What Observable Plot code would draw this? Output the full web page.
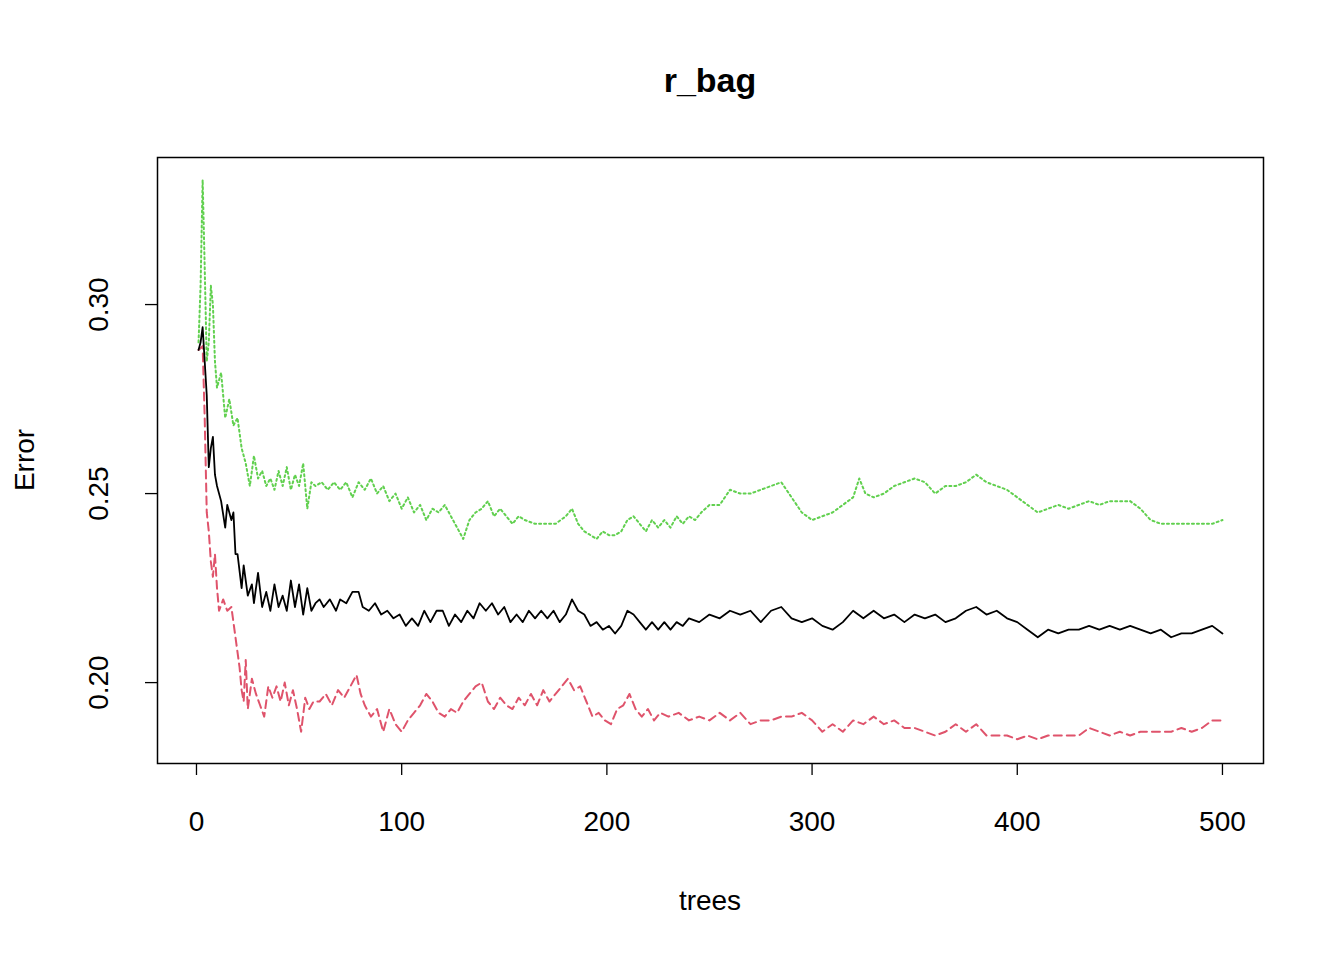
<!DOCTYPE html>
<html><head><meta charset="utf-8">
<script src="https://cdn.jsdelivr.net/npm/d3@7"></script>
<script src="https://cdn.jsdelivr.net/npm/@observablehq/plot@0.6"></script>
<style>body{margin:0;background:#fff}</style>
</head><body><div id="c"></div>
<script>
const oobT=[1,2,3,4,5,6,7,8,9,10,12,14,15,17,18,19,20,22,23,25,27,28,30,32,34,36,38,40,42,44,46,48,50,52,54,56,58,60,62,65,68,70,73,76,79,81,84,87,90,93,96,99,102,105,108,111,114,117,120,123,126,129,132,135,138,141,144,147,150,153,156,159,162,165,168,171,174,177,180,183,186,189,192,195,198,201,204,207,210,213,216,219,222,225,228,231,234,237,240,245,250,255,260,265,270,275,280,285,290,295,300,305,310,315,320,325,330,335,340,345,350,355,360,365,370,375,380,385,390,395,400,405,410,415,420,425,430,435,440,445,450,455,460,465,470,475,480,485,490,495,500];
const oobV=[0.288,0.290,0.294,0.285,0.276,0.257,0.262,0.265,0.255,0.252,0.248,0.241,0.247,0.243,0.245,0.234,0.234,0.225,0.231,0.223,0.226,0.221,0.229,0.220,0.224,0.219,0.226,0.220,0.223,0.219,0.227,0.220,0.226,0.218,0.225,0.219,0.221,0.222,0.220,0.222,0.219,0.222,0.221,0.224,0.224,0.220,0.219,0.221,0.218,0.219,0.217,0.218,0.215,0.217,0.215,0.219,0.216,0.219,0.219,0.215,0.218,0.216,0.219,0.217,0.221,0.219,0.221,0.218,0.220,0.216,0.218,0.216,0.219,0.217,0.219,0.217,0.219,0.216,0.218,0.222,0.219,0.218,0.215,0.216,0.214,0.215,0.213,0.215,0.219,0.218,0.216,0.214,0.216,0.214,0.216,0.214,0.216,0.215,0.217,0.216,0.218,0.217,0.219,0.218,0.219,0.216,0.219,0.220,0.217,0.216,0.217,0.215,0.214,0.216,0.219,0.217,0.219,0.217,0.218,0.216,0.218,0.217,0.218,0.216,0.217,0.219,0.220,0.218,0.219,0.217,0.216,0.214,0.212,0.214,0.213,0.214,0.214,0.215,0.214,0.215,0.214,0.215,0.214,0.213,0.214,0.212,0.213,0.213,0.214,0.215,0.213];
const c1T=[1,3,4,5,6,7,8,9,10,11,13,15,17,19,21,22,23,24,25,27,29,31,33,35,37,39,41,43,45,47,49,51,53,55,57,60,63,66,69,72,75,78,80,82,85,88,91,94,97,100,103,106,109,112,115,118,121,124,127,130,133,136,139,142,145,148,151,154,157,160,163,166,169,172,175,178,181,184,187,190,193,196,199,202,205,208,211,214,217,220,223,226,230,235,240,245,250,255,260,265,270,275,280,285,290,295,300,305,310,315,320,325,330,335,340,345,350,355,360,365,370,375,380,385,390,395,400,405,410,415,420,425,430,435,440,445,450,455,460,465,470,475,480,485,490,495,500];
const c1V=[0.288,0.289,0.270,0.245,0.240,0.232,0.228,0.234,0.225,0.219,0.222,0.219,0.220,0.212,0.204,0.198,0.195,0.206,0.193,0.201,0.197,0.194,0.191,0.199,0.196,0.199,0.195,0.200,0.194,0.198,0.193,0.187,0.196,0.193,0.195,0.195,0.197,0.194,0.198,0.196,0.199,0.202,0.197,0.194,0.191,0.193,0.187,0.193,0.189,0.187,0.190,0.192,0.194,0.197,0.195,0.192,0.191,0.193,0.192,0.195,0.197,0.199,0.200,0.195,0.193,0.196,0.194,0.193,0.196,0.194,0.197,0.194,0.198,0.195,0.197,0.199,0.201,0.198,0.199,0.195,0.191,0.192,0.190,0.189,0.193,0.194,0.197,0.193,0.191,0.193,0.190,0.192,0.191,0.192,0.190,0.191,0.190,0.192,0.190,0.192,0.189,0.190,0.190,0.191,0.191,0.192,0.190,0.187,0.189,0.187,0.190,0.189,0.191,0.189,0.190,0.188,0.188,0.187,0.186,0.187,0.189,0.187,0.189,0.186,0.186,0.186,0.185,0.186,0.185,0.186,0.186,0.186,0.186,0.188,0.187,0.186,0.187,0.186,0.187,0.187,0.187,0.187,0.188,0.187,0.188,0.190,0.190];
const c2T=[1,2,3,4,5,6,7,8,9,10,12,14,16,18,20,22,24,26,28,30,32,34,36,38,40,42,44,46,48,50,52,54,56,58,61,64,67,70,73,76,79,82,85,88,91,94,97,100,103,106,109,112,115,118,121,124,127,130,133,136,139,142,145,148,151,154,157,160,165,170,175,180,183,186,189,192,195,198,201,204,207,210,213,216,219,222,225,228,231,234,237,240,243,246,250,255,260,265,270,275,280,285,290,295,300,305,310,315,320,323,326,330,335,340,345,350,355,360,365,370,375,380,385,390,395,400,405,410,415,420,425,430,435,440,445,450,455,460,465,470,475,480,485,490,495,500];
const c2V=[0.290,0.305,0.333,0.310,0.285,0.290,0.305,0.300,0.285,0.278,0.282,0.270,0.275,0.268,0.270,0.262,0.258,0.252,0.260,0.254,0.256,0.252,0.254,0.251,0.256,0.252,0.257,0.251,0.255,0.252,0.258,0.246,0.253,0.252,0.253,0.251,0.253,0.251,0.253,0.249,0.253,0.251,0.254,0.250,0.252,0.248,0.250,0.246,0.249,0.245,0.247,0.243,0.246,0.245,0.247,0.244,0.241,0.238,0.243,0.245,0.246,0.248,0.244,0.246,0.244,0.242,0.244,0.243,0.242,0.242,0.242,0.244,0.246,0.242,0.240,0.239,0.238,0.240,0.239,0.239,0.240,0.243,0.244,0.242,0.240,0.243,0.241,0.243,0.241,0.244,0.242,0.244,0.243,0.245,0.247,0.247,0.251,0.250,0.250,0.251,0.252,0.253,0.249,0.245,0.243,0.244,0.245,0.247,0.249,0.254,0.250,0.249,0.250,0.252,0.253,0.254,0.253,0.250,0.252,0.252,0.253,0.255,0.253,0.252,0.251,0.249,0.247,0.245,0.246,0.247,0.246,0.247,0.248,0.247,0.248,0.248,0.248,0.246,0.243,0.242,0.242,0.242,0.242,0.242,0.242,0.243,0.239];
const xTicks=[0,100,200,300,400,500];
const yTicks=[0.20,0.25,0.30];
const mk=(T,V)=>T.map((t,i)=>({t,v:V[i]}));
const font="Liberation Sans, Arial, sans-serif";
const plot=Plot.plot({
  width:1344,height:960,marginLeft:157,marginRight:81,marginTop:157,marginBottom:197,
  style:{fontFamily:font,fontSize:"28px",background:"#fff"},
  x:{domain:[-19,520],ticks:xTicks,label:null},
  y:{domain:[0.1786,0.3389],ticks:yTicks,label:null},
  marks:[
    Plot.frame({stroke:"#000",strokeWidth:1.5}),
    Plot.axisX({ticks:xTicks,tickSize:12,tickPadding:36,tickFormat:d=>String(d),fontSize:28,strokeWidth:1.3}),
    Plot.axisY({ticks:yTicks,tickSize:12,tickPadding:38,tickRotate:-90,tickFormat:d=>d.toFixed(2),fontSize:28,strokeWidth:1.3,textAnchor:"middle"}),
    Plot.line(mk(c2T,c2V),{x:"t",y:"v",stroke:"#61d04f",strokeWidth:2,strokeDasharray:"2,3"}),
    Plot.line(mk(c1T,c1V),{x:"t",y:"v",stroke:"#df536b",strokeWidth:2,strokeDasharray:"8,5"}),
    Plot.line(mk(oobT,oobV),{x:"t",y:"v",stroke:"#000",strokeWidth:1.8})
  ]
});
const svg=d3.select(plot);
svg.append("text").attr("x",710).attr("y",92).attr("text-anchor","middle").attr("font-size",34).attr("font-weight","bold").attr("font-family",font).text("r_bag");
svg.append("text").attr("x",710).attr("y",910).attr("text-anchor","middle").attr("font-size",28).attr("font-family",font).text("trees");
svg.append("text").attr("transform","translate(34,460) rotate(-90)").attr("text-anchor","middle").attr("font-size",28).attr("font-family",font).text("Error");
document.getElementById("c").appendChild(plot);
</script></body></html>
